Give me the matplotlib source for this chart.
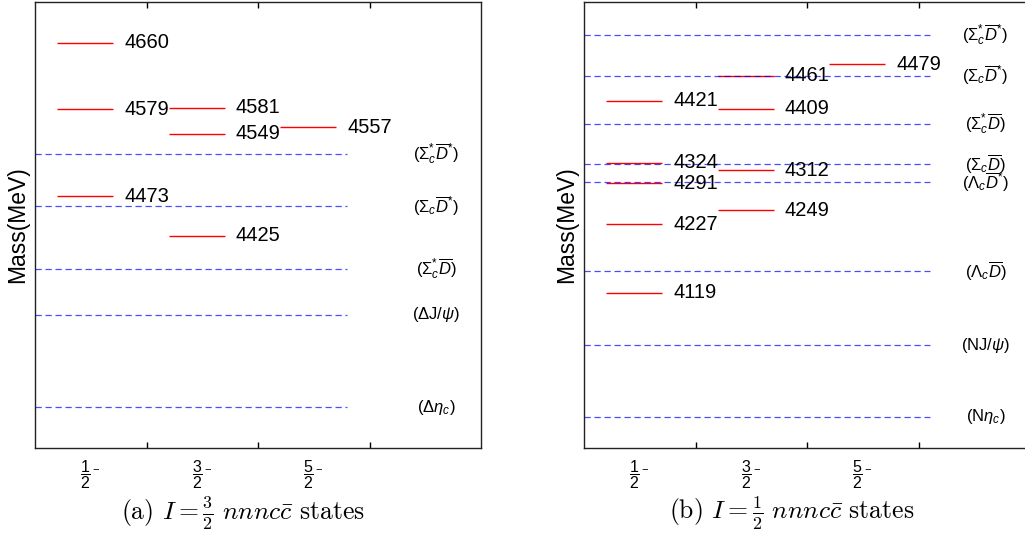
import matplotlib
matplotlib.use("Agg")
import matplotlib.pyplot as plt

plt.rcParams['font.family'] = ['Liberation Sans', 'DejaVu Sans']
plt.rcParams['mathtext.fontset'] = 'custom'
plt.rcParams['mathtext.rm'] = 'Liberation Sans'
plt.rcParams['mathtext.it'] = 'Liberation Sans:italic'
plt.rcParams['mathtext.bf'] = 'Liberation Sans:bold'

# ---------------- data ----------------
j_labels = [r"$\dfrac{1}{2}^-$", r"$\dfrac{3}{2}^-$", r"$\dfrac{5}{2}^-$"]

# panel (a): I = 3/2
a_j12 = [4660, 4579, 4473]
a_j32 = [4581, 4549, 4425]
a_j52 = [4557]
a_thr = [4525, 4461, 4385, 4329, 4216]
a_thr_labels = [r"$(\Sigma_c^{*}\overline{D}^{*})$", r"$(\Sigma_c\overline{D}^{*})$",
                r"$(\Sigma_c^{*}\overline{D})$", r"($\Delta$J/$\psi$)", r"($\Delta\eta_c$)"]

# panel (b): I = 1/2
b_j12 = [4421, 4324, 4291, 4227, 4119]
b_j32 = [4461, 4409, 4312, 4249]
b_j52 = [4479]
b_thr = [4525, 4461, 4385, 4321, 4293, 4153, 4036, 3923]
b_thr_labels = [r"$(\Sigma_c^{*}\overline{D}^{*})$", r"$(\Sigma_c\overline{D}^{*})$",
                r"$(\Sigma_c^{*}\overline{D})$", r"$(\Sigma_c\overline{D})$",
                r"$(\Lambda_c\overline{D}^{*})$", r"$(\Lambda_c\overline{D})$",
                r"(NJ/$\psi$)", r"(N$\eta_c$)"]

a_caption = r"(a) $I=\frac{3}{2}\ nnnc\bar{c}$ states"
b_caption = r"(b) $I=\frac{1}{2}\ nnnc\bar{c}$ states"

# --------------- figure ----------------
W, H = 1025, 534
fig = plt.figure(figsize=(W / 100, H / 100), dpi=100)

def draw_panel(ax, cols, thr, thr_labels, ylim, thr_end):
    for i, vals in enumerate(cols):
        for v in vals:
            ax.plot([i + 0.2, i + 0.7], [v, v], color='red', lw=1.0, solid_capstyle='butt')
            ax.text(i + 0.8, v, str(v), fontsize=14.5, va='center', ha='left', color='black')
    for v, lab in zip(thr, thr_labels):
        ax.plot([0, thr_end], [v, v], color='blue', lw=0.9, alpha=0.7,
                linestyle=(0, (5, 3)))
        ax.text(3.6, v, lab, fontsize=12, va='center', ha='center')
    ax.set_xlim(0, 4)
    ax.set_ylim(*ylim)
    ax.set_xticks([1, 2, 3])
    ax.set_xticklabels([])
    ax.set_xticks([0.5, 1.5, 2.5], minor=True)
    ax.set_xticklabels(j_labels, minor=True, fontsize=11.5)
    ax.tick_params(axis='x', which='major', direction='in', length=4.5, top=True,
                   width=1)
    ax.tick_params(axis='x', which='minor', length=0, pad=7)
    ax.set_yticks([])
    ax.set_ylabel("Mass(MeV)", fontsize=16.5, labelpad=4)
    for s in ax.spines.values():
        s.set_linewidth(1.0)
        s.set_color('#222222')

axL = fig.add_axes([35 / W, 1 - 448 / H, 446 / W, 446 / H])
draw_panel(axL, [a_j12, a_j32, a_j52], a_thr, a_thr_labels, (4166.5, 4709.5), 2.8)

axR = fig.add_axes([584 / W, 1 - 448 / H, 446 / W, 446 / H])
draw_panel(axR, [b_j12, b_j32, b_j52], b_thr, b_thr_labels, (3874, 4577), 3.1)

fig.text(243 / W, 1 - 513 / H, a_caption, fontsize=18.5, family='cmr10',
         math_fontfamily='cm', ha='center', va='center')
fig.text(792 / W, 1 - 513 / H, b_caption, fontsize=18.5, family='cmr10',
         math_fontfamily='cm', ha='center', va='center')

fig.savefig("out.png", dpi=100)
